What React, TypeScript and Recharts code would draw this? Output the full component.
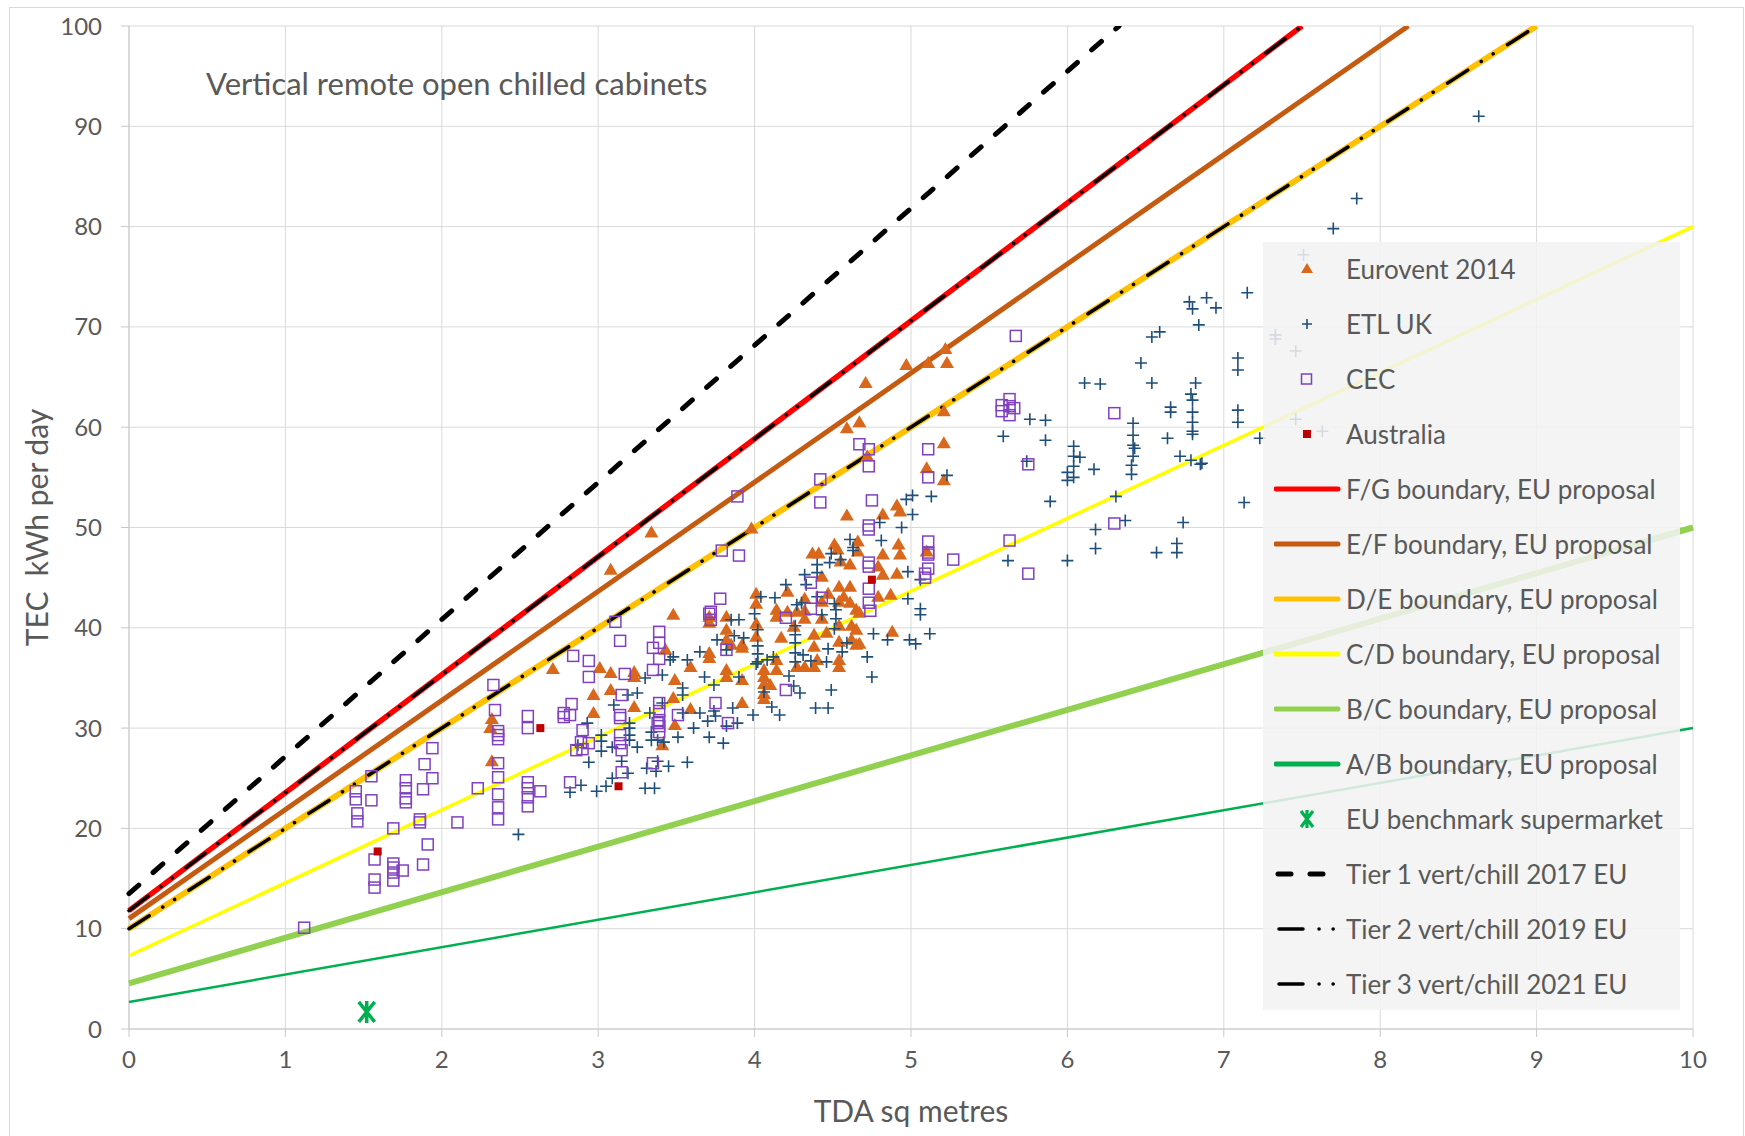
import React from 'react';
import { ScatterChart, Scatter, XAxis, YAxis, CartesianGrid, Label } from 'recharts';

const FONT = 'Lato, "Open Sans", sans-serif';
const TEXT = '#595959';

const xTicks = [0, 1, 2, 3, 4, 5, 6, 7, 8, 9, 10];
const yTicks = [0, 10, 20, 30, 40, 50, 60, 70, 80, 90, 100];

// boundary lines, [TDA, TEC] end points
const fgLine: [number, number][] = [[0, 11.8], [7.5, 100]];
const efLine: [number, number][] = [[0, 11.0], [8.18, 100]];
const deLine: [number, number][] = [[0, 10.0], [9.0, 100]];
const cdLine: [number, number][] = [[0, 7.3], [10, 80]];
const bcLine: [number, number][] = [[0, 4.55], [10, 50]];
const abLine: [number, number][] = [[0, 2.7], [10, 30]];
const tier1Line: [number, number][] = [[0, 13.5], [6.33, 100]];
const tier2Line: [number, number][] = [[0, 11.8], [7.5, 100]];
const tier3Line: [number, number][] = [[0, 10.0], [9.0, 100]];

const benchmark: [number, number][] = [[1.52, 1.7]];

const australia: [number, number][] = [[1.59, 17.7], [2.63, 30.0], [3.13, 24.2], [4.75, 44.8]];

const eurovent: [number, number][] = [
  [2.32, 30.9], [2.31, 30.0], [2.32, 26.7], [2.71, 35.9],
  [3.34, 49.5], [3.98, 49.9], [4.37, 47.4], [4.41, 47.4], [4.51, 48.3], [4.53, 47.8], [4.55, 46.6],
  [3.08, 45.8], [3.48, 41.3], [3.01, 36.0], [3.08, 35.5], [3.23, 35.6], [3.23, 35.1], [2.97, 33.3],
  [3.08, 33.8], [3.23, 32.1], [2.97, 31.5], [3.49, 34.8], [3.59, 36.1], [3.48, 33.0], [3.59, 31.9],
  [3.49, 30.3], [3.41, 28.3], [3.43, 37.8], [3.71, 41.1], [3.71, 40.5], [3.71, 37.5], [3.71, 37.0],
  [3.82, 41.1], [3.82, 39.8], [3.82, 38.8], [3.85, 38.3], [3.92, 38.3], [3.92, 38.0], [3.82, 35.8],
  [3.82, 35.1], [3.92, 34.8], [3.92, 32.5], [4.01, 43.4], [4.01, 42.4], [4.01, 40.4], [4.01, 39.1],
  [4.06, 35.8], [4.06, 35.1], [4.06, 34.4], [4.06, 33.4], [4.06, 32.9], [4.10, 34.3], [4.14, 41.8],
  [4.14, 41.1], [4.14, 36.8], [4.14, 35.8], [4.21, 43.6], [4.21, 41.6], [4.17, 39.0], [4.25, 40.1],
  [4.27, 41.6], [4.27, 36.1], [4.32, 42.9], [4.32, 41.7], [4.32, 40.9], [4.32, 36.1], [4.38, 39.3],
  [4.38, 38.1], [4.38, 36.1], [4.40, 36.8], [4.43, 45.1], [4.43, 42.6], [4.43, 40.9], [4.46, 39.5],
  [4.47, 43.4], [4.54, 44.1], [4.54, 42.6], [4.54, 40.2], [4.54, 38.6], [4.54, 36.8], [4.54, 36.1],
  [4.57, 43.1], [4.61, 46.3], [4.61, 44.1], [4.61, 42.5], [4.62, 40.2], [4.62, 38.8], [4.65, 41.8],
  [4.65, 39.8],
  [4.97, 66.2], [5.11, 66.4], [5.23, 66.4], [5.22, 67.8], [4.71, 64.4], [4.67, 60.5], [4.59, 59.9],
  [5.21, 61.6], [5.21, 58.4], [4.72, 57.1], [5.10, 55.9], [5.21, 54.7], [4.91, 52.2], [4.93, 51.6],
  [4.59, 51.2], [4.82, 51.3], [4.66, 48.6], [4.66, 47.6], [4.92, 48.3], [4.93, 47.3], [4.82, 47.3],
  [4.79, 46.1], [4.82, 45.3], [4.91, 45.4], [5.10, 47.6], [4.87, 43.3], [4.79, 43.1], [4.67, 41.5],
  [4.88, 39.6], [4.67, 38.4], [4.65, 38.3],
];

const etlUk: [number, number][] = [
  [2.49, 19.4], [2.82, 23.6],
  [2.89, 24.3], [2.99, 23.7], [3.05, 24.2], [3.09, 25.0], [2.94, 26.6], [2.87, 28.3], [2.93, 30.5],
  [3.02, 29.3], [3.02, 28.7], [3.02, 27.7], [3.09, 28.1], [3.10, 32.3], [3.19, 33.3], [3.15, 26.7],
  [3.19, 25.5], [3.20, 30.5], [3.20, 30.0], [3.20, 29.3], [3.20, 28.8], [3.25, 33.5], [3.25, 28.1],
  [3.30, 35.0], [3.30, 24.0], [3.31, 26.0], [3.33, 31.5], [3.34, 29.6], [3.34, 28.8], [3.36, 24.0],
  [3.37, 25.7], [3.38, 26.7], [3.38, 28.8], [3.41, 35.3], [3.41, 32.5], [3.42, 28.6], [3.46, 36.8],
  [3.45, 26.2], [3.48, 37.1], [3.51, 29.1], [3.54, 34.0], [3.54, 33.3], [3.54, 31.5], [3.57, 36.8],
  [3.57, 26.6], [3.61, 30.0], [3.65, 37.6], [3.65, 31.5], [3.68, 35.1], [3.70, 30.7], [3.71, 29.1],
  [3.74, 34.3], [3.74, 31.7], [3.75, 31.2], [3.76, 38.8], [3.80, 28.5], [3.82, 37.8], [3.82, 30.2],
  [3.85, 40.8], [3.86, 32.0], [3.87, 39.2], [3.89, 30.5], [3.90, 40.8], [3.90, 35.1], [3.93, 39.0],
  [3.99, 31.3], [4.00, 41.4], [4.01, 36.4], [4.02, 38.2], [4.02, 37.4], [4.02, 36.6], [4.02, 39.8],
  [4.04, 43.1], [4.06, 33.6], [4.08, 36.8], [4.11, 32.1], [4.12, 37.1], [4.13, 43.0], [4.16, 31.3],
  [4.20, 44.3], [4.22, 35.2], [4.25, 34.2], [4.26, 40.2], [4.26, 39.3], [4.26, 38.5], [4.26, 37.5],
  [4.26, 36.6], [4.27, 42.3], [4.29, 33.5], [4.30, 42.5], [4.31, 37.3], [4.32, 45.3], [4.33, 44.3],
  [4.36, 36.7], [4.39, 32.0], [4.40, 45.5], [4.40, 43.1], [4.43, 41.3], [4.46, 36.6], [4.47, 37.9],
  [4.47, 32.0], [4.49, 33.8], [4.48, 46.5], [4.51, 42.4], [4.51, 39.9], [4.52, 41.8], [4.52, 40.9],
  [4.56, 37.6], [4.59, 38.5],
  [4.61, 48.8], [4.63, 48.0], [4.49, 47.4], [4.55, 46.8], [4.40, 46.3],
  [4.72, 37.1], [4.75, 35.1], [4.99, 38.8],
  [6.11, 64.4], [6.21, 64.3], [5.76, 60.8], [5.86, 60.7], [5.59, 59.1], [5.86, 58.7], [5.74, 56.6],
  [6.04, 58.1], [6.04, 57.1], [6.08, 57.0], [6.04, 56.1], [6.00, 55.5], [6.04, 55.0], [6.00, 54.7],
  [6.17, 55.8], [6.42, 60.4], [6.42, 59.2], [6.42, 58.2], [6.43, 57.9], [6.42, 57.1], [6.41, 56.2],
  [6.41, 55.3], [5.89, 52.6], [6.31, 53.1], [6.37, 50.7], [6.18, 49.8], [6.18, 47.9], [5.62, 46.7],
  [6.00, 46.7], [5.23, 55.2], [5.01, 53.2], [5.13, 53.1], [4.97, 52.8], [5.01, 51.3], [4.94, 50.0],
  [4.80, 50.5], [4.81, 48.7], [4.63, 47.7], [4.98, 45.6], [5.06, 44.8], [4.98, 42.9], [5.06, 41.9],
  [5.06, 41.3], [5.12, 39.4], [5.03, 38.4], [4.85, 38.8], [4.76, 39.4],
  [8.63, 91.0], [7.85, 82.8], [7.70, 79.8], [7.51, 77.2], [7.15, 73.4], [6.78, 72.5], [6.80, 71.8],
  [6.89, 72.9], [6.95, 71.9], [6.84, 70.2], [6.54, 69.0], [6.59, 69.5], [7.33, 69.2], [7.33, 68.8],
  [7.46, 67.6], [6.47, 66.4], [7.09, 66.9], [7.09, 65.7], [6.54, 64.4], [6.82, 64.4], [6.79, 63.3],
  [6.80, 62.7], [6.66, 62.0], [6.66, 61.5], [6.80, 61.5], [7.09, 61.7], [7.09, 60.5], [7.46, 60.8],
  [6.80, 60.5], [6.80, 59.6], [6.80, 59.3], [7.63, 59.6], [7.23, 58.9], [6.64, 58.9], [6.72, 57.1],
  [6.79, 56.7], [6.85, 56.3], [6.86, 56.4], [7.13, 52.5], [6.74, 50.5], [6.57, 47.5], [6.70, 48.4],
  [6.70, 47.5],
];

const cec: [number, number][] = [
  [1.12, 10.1], [1.45, 23.7], [1.45, 22.9], [1.46, 21.5], [1.46, 20.7], [1.55, 25.2], [1.55, 22.8],
  [1.57, 16.9], [1.57, 14.9], [1.57, 14.1], [1.69, 20.0], [1.69, 16.5], [1.69, 16.1], [1.69, 15.6],
  [1.69, 14.8], [1.75, 15.8], [1.77, 24.8], [1.77, 24.0], [1.77, 23.0], [1.77, 22.6], [1.86, 20.9],
  [1.86, 20.6], [1.88, 16.4], [1.88, 23.9], [1.89, 26.4], [1.91, 18.4], [1.94, 28.0], [1.94, 25.0],
  [2.10, 20.6], [2.23, 24.0], [2.33, 34.3], [2.34, 31.8], [2.36, 29.7], [2.36, 29.3], [2.36, 28.9],
  [2.36, 26.5], [2.36, 25.1], [2.36, 23.4], [2.36, 22.1], [2.36, 20.9], [2.55, 31.2], [2.55, 30.0],
  [2.55, 24.6], [2.55, 24.0], [2.55, 23.1], [2.55, 22.2], [2.63, 23.7], [2.78, 31.5], [2.78, 31.1],
  [2.82, 31.3], [2.83, 32.4], [2.84, 37.2], [2.82, 24.6], [2.86, 27.8],
  [2.94, 36.7], [2.94, 35.1], [2.90, 29.8], [2.89, 28.6], [2.90, 27.9], [2.94, 28.5], [3.11, 40.6],
  [3.14, 38.7], [3.17, 35.4], [3.15, 33.3], [3.14, 31.3], [3.14, 31.0], [3.14, 29.3], [3.14, 28.5],
  [3.15, 27.8], [3.15, 25.6], [3.35, 38.0], [3.35, 35.8], [3.35, 26.5], [3.39, 39.6], [3.39, 38.5],
  [3.39, 36.9], [3.39, 32.5], [3.39, 31.7], [3.39, 30.8], [3.39, 30.2], [3.39, 29.6], [3.38, 30.5],
  [3.51, 31.3], [3.71, 41.4], [3.72, 41.6], [3.72, 40.8], [3.78, 42.9], [3.82, 37.8], [3.75, 32.5],
  [3.83, 30.5], [4.20, 33.8], [4.20, 41.0], [4.36, 44.5], [4.36, 41.9], [4.43, 43.0],
  [3.89, 53.1], [3.79, 47.7], [3.90, 47.2], [4.42, 54.8], [4.42, 52.5],
  [4.67, 58.3], [4.73, 57.8], [4.73, 56.1], [5.11, 57.8], [5.11, 55.0], [4.75, 52.7], [4.73, 50.2],
  [4.73, 49.8], [5.11, 48.6], [5.11, 47.5], [5.11, 47.3], [5.27, 46.8], [5.11, 45.9], [5.09, 45.4],
  [5.09, 45.0], [4.73, 46.5], [4.73, 46.1], [4.73, 43.9], [4.73, 42.5], [4.74, 41.7], [5.58, 62.2],
  [5.63, 62.8], [5.63, 62.1], [5.66, 61.9], [5.58, 61.6], [5.63, 61.2], [5.75, 56.3], [5.63, 48.7],
  [5.75, 45.4], [6.30, 61.4], [6.30, 50.4], [5.67, 69.1],
];

const pts = (a: [number, number][]) => a.map(([x, y]) => ({ x, y }));

const C_TRI = '#D9681C';
const C_PLUS = '#1F4E79';
const C_SQ = '#8040C0';
const C_AUS = '#C00000';
const C_BENCH = '#00B050';

const Triangle = (p: any) => (
  <path d={`M${p.cx},${p.cy - 7} L${p.cx + 7},${p.cy + 5} L${p.cx - 7},${p.cy + 5} Z`} fill={C_TRI} />
);
const Plus = (p: any) => (
  <path d={`M${p.cx - 6},${p.cy} H${p.cx + 6} M${p.cx},${p.cy - 6} V${p.cy + 6}`} stroke={C_PLUS} strokeWidth={1.6} fill="none" />
);
const OpenSquare = (p: any) => (
  <rect x={p.cx - 5.5} y={p.cy - 5.5} width={11} height={11} stroke={C_SQ} strokeWidth={1.5} fill="none" />
);
const RedSquare = (p: any) => <rect x={p.cx - 4} y={p.cy - 4} width={8} height={8} fill={C_AUS} />;
const Star = (p: any) => (
  <path
    d={`M${p.cx - 8},${p.cy - 10} L${p.cx + 8},${p.cy + 10} M${p.cx + 8},${p.cy - 10} L${p.cx - 8},${p.cy + 10} M${p.cx},${p.cy - 11} V${p.cy + 11}`}
    stroke={C_BENCH}
    strokeWidth={3.5}
    fill="none"
  />
);
const NoDot = () => <g />;

const DASH_DOT_DOT = '24 16 0.1 14 0.1 17';

const lines = [
  { key: 'ab', data: abLine, stroke: '#00B050', width: 2.5 },
  { key: 'bc', data: bcLine, stroke: '#92D050', width: 6 },
  { key: 'cd', data: cdLine, stroke: '#FFFF00', width: 3.5 },
  { key: 'de', data: deLine, stroke: '#FFC000', width: 6 },
  { key: 'ef', data: efLine, stroke: '#C55A11', width: 5 },
  { key: 'fg', data: fgLine, stroke: '#FF0000', width: 5.5 },
  { key: 't3', data: tier3Line, stroke: '#000000', width: 3.5, dash: DASH_DOT_DOT },
  { key: 't2', data: tier2Line, stroke: '#000000', width: 3.5, dash: DASH_DOT_DOT },
  { key: 't1', data: tier1Line, stroke: '#000000', width: 5, dash: '13 19' },
];

const legendItems = [
  { label: 'Eurovent 2014', icon: 'tri' },
  { label: 'ETL UK', icon: 'plus' },
  { label: 'CEC', icon: 'sq' },
  { label: 'Australia', icon: 'aus' },
  { label: 'F/G boundary, EU proposal', icon: 'line', color: '#FF0000' },
  { label: 'E/F boundary, EU proposal', icon: 'line', color: '#C55A11' },
  { label: 'D/E boundary, EU proposal', icon: 'line', color: '#FFC000' },
  { label: 'C/D boundary, EU proposal', icon: 'line', color: '#FFFF00' },
  { label: 'B/C boundary, EU proposal', icon: 'line', color: '#92D050' },
  { label: 'A/B boundary, EU proposal', icon: 'line', color: '#00B050' },
  { label: 'EU benchmark supermarket', icon: 'star' },
  { label: 'Tier 1 vert/chill 2017 EU', icon: 'dash' },
  { label: 'Tier 2 vert/chill 2019 EU', icon: 'ddot' },
  { label: 'Tier 3 vert/chill 2021 EU', icon: 'ddot' },
];

function LegendIcon({ icon, color }: { icon: string; color?: string }) {
  return (
    <svg width={70} height={30} style={{ display: 'block' }}>
      {icon === 'tri' && <path d="M33,9 L39,19 L27,19 Z" fill={C_TRI} />}
      {icon === 'plus' && <path d="M28,15 H38 M33,10 V20" stroke={C_PLUS} strokeWidth={1.6} />}
      {icon === 'sq' && <rect x={27.5} y={10} width={10} height={10} stroke={C_SQ} strokeWidth={1.5} fill="none" />}
      {icon === 'aus' && <rect x={29} y={11} width={8} height={8} fill={C_AUS} />}
      {icon === 'line' && <line x1={2} y1={15} x2={64} y2={15} stroke={color} strokeWidth={5} strokeLinecap="round" />}
      {icon === 'star' && (
        <path d="M27,7 L39,23 M39,7 L27,23 M33,6 V24" stroke={C_BENCH} strokeWidth={3.2} fill="none" />
      )}
      {icon === 'dash' && <line x1={4} y1={15} x2={58} y2={15} stroke="#000" strokeWidth={5} strokeDasharray="13 19" strokeLinecap="round" />}
      {icon === 'ddot' && (
        <line x1={5} y1={15} x2={64} y2={15} stroke="#000" strokeWidth={3.5} strokeDasharray="24 16 0.1 14 0.1 17" strokeLinecap="round" />
      )}
    </svg>
  );
}

export default function App() {
  return (
    <div style={{ position: 'absolute', left: 0, top: 0, width: 1745, height: 1136, background: '#fff', overflow: 'hidden', fontFamily: FONT }}>
      <div style={{ position: 'absolute', left: 9, top: 7, width: 1733, height: 1200, border: '1px solid #d9d9d9' }} />
      <ScatterChart width={1745} height={1136} margin={{ top: 26, right: 52, bottom: 0, left: 0 }}>
        <CartesianGrid stroke="#d9d9d9" strokeWidth={1} />
        <XAxis
          type="number"
          dataKey="x"
          domain={[0, 10]}
          ticks={xTicks}
          interval={0}
          height={107}
          tickSize={8}
          tickMargin={14}
          stroke="#c8c8c8"
          tick={{ fill: TEXT, fontSize: 24, fontFamily: FONT }}
        >
          <Label
            content={(props: any) => {
              const vb = props.viewBox || { x: 129, width: 1564 };
              return (
                <text x={vb.x + vb.width / 2} y={1110} textAnchor="middle" dominantBaseline="central" fill={TEXT} fontSize={30} fontFamily={FONT}>
                  TDA sq metres
                </text>
              );
            }}
          />
        </XAxis>
        <YAxis
          type="number"
          dataKey="y"
          domain={[0, 100]}
          allowDataOverflow
          ticks={yTicks}
          interval={0}
          width={129}
          tickSize={8}
          tickMargin={19}
          stroke="#c8c8c8"
          tick={{ fill: TEXT, fontSize: 24, fontFamily: FONT }}
        >
          <Label
            content={(props: any) => {
              const vb = props.viewBox || { y: 26, height: 1003 };
              const cy = vb.y + vb.height / 2;
              return (
                <text x={36} y={cy} transform={`rotate(-90 36 ${cy})`} textAnchor="middle" dominantBaseline="central" fill={TEXT} fontSize={30} fontFamily={FONT}>
                  {'TEC\u00a0 kWh per day'}
                </text>
              );
            }}
          />
        </YAxis>
        {lines.map((l) => (
          <Scatter
            key={l.key}
            data={pts(l.data)}
            shape={NoDot}
            line={{ stroke: l.stroke, strokeWidth: l.width, strokeDasharray: l.dash, strokeLinecap: l.dash ? 'round' : 'butt' }}
            fill={l.stroke}
            legendType="none"
            isAnimationActive={false}
          />
        ))}
        <Scatter data={pts(eurovent)} shape={Triangle} fill={C_TRI} isAnimationActive={false} />
        <Scatter data={pts(etlUk)} shape={Plus} fill={C_PLUS} isAnimationActive={false} />
        <Scatter data={pts(cec)} shape={OpenSquare} fill={C_SQ} isAnimationActive={false} />
        <Scatter data={pts(australia)} shape={RedSquare} fill={C_AUS} isAnimationActive={false} />
        <Scatter data={pts(benchmark)} shape={Star} fill={C_BENCH} isAnimationActive={false} />
      </ScatterChart>
      <div style={{ position: 'absolute', left: 206, top: 64, fontSize: 31, color: TEXT, whiteSpace: 'nowrap', lineHeight: '38px' }}>
        Vertical remote open chilled cabinets
      </div>
      <div style={{ position: 'absolute', left: 1263, top: 242, width: 417, height: 768, background: 'rgba(242,242,242,0.86)' }}>
        {legendItems.map((it, i) => (
          <div key={it.label} style={{ position: 'absolute', left: 0, top: -1 + 55 * i, height: 55, display: 'flex', alignItems: 'center' }}>
            <div style={{ marginLeft: 11, width: 72 }}>
              <LegendIcon icon={it.icon} color={it.color} />
            </div>
            <span style={{ fontSize: 26, color: TEXT, whiteSpace: 'nowrap' }}>{it.label}</span>
          </div>
        ))}
      </div>
    </div>
  );
}
